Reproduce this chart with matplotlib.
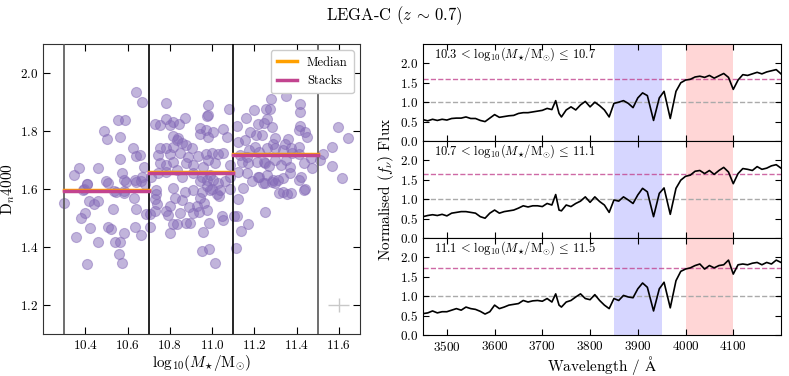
import matplotlib
matplotlib.use("Agg")
import matplotlib.pyplot as plt
import numpy as np

plt.rcParams['font.family'] = ['cmr10', 'DejaVu Serif']
plt.rcParams['mathtext.fontset'] = 'cm'
plt.rcParams['axes.formatter.use_mathtext'] = True
plt.rcParams['axes.unicode_minus'] = False

# ---------------- data ----------------
mass = [10.641, 10.670, 10.554, 10.586, 10.487, 10.503, 10.565, 10.625, 10.638, 10.658,
        10.565, 10.371, 10.348, 10.462, 10.575, 10.581, 10.594, 10.638, 10.676, 10.670,
        10.506, 10.406, 10.390, 10.546, 10.581, 10.300, 10.406, 10.394, 10.419, 10.460,
        10.440, 10.379, 10.400, 10.354, 10.422, 10.459, 10.406, 10.506, 10.520, 10.530,
        10.536, 10.581, 10.630, 10.641, 10.635, 10.581, 10.543, 10.563, 10.560, 10.575,
        10.665, 10.689, 10.684, 10.665, 10.635, 10.500,
        10.784, 10.983, 10.983, 10.978, 11.078, 10.729, 10.752, 10.784, 10.816, 10.800,
        10.871, 10.843, 10.813, 10.832, 10.840, 10.943, 10.943, 10.971, 10.983, 11.003,
        11.054, 11.071, 10.752, 10.784, 10.816, 10.856, 10.879, 10.903, 10.744, 10.800,
        10.848, 10.887, 10.935, 10.971, 10.998, 11.030, 11.050, 10.752, 10.784, 10.816,
        10.879, 10.911, 10.956, 10.980, 11.016, 11.086, 10.713, 10.744, 10.784, 10.832,
        10.860, 10.911, 10.951, 10.975, 10.990, 11.005, 11.030, 11.086, 10.733, 10.816,
        10.871, 10.911, 10.951, 10.990, 11.038, 10.729, 10.737, 10.741, 10.729, 10.705,
        10.705, 10.784, 10.792, 10.803, 10.824, 10.813, 10.832, 10.800, 10.848, 10.860,
        10.892, 10.895, 10.879, 10.911, 10.930, 10.940, 10.943, 10.963, 10.978, 10.987,
        10.959, 10.954, 10.986, 11.014, 11.022, 11.035, 11.046, 11.050, 11.086, 11.000,
        10.975, 11.062, 10.943, 11.102,
        11.279, 11.348, 11.416, 11.416, 11.117, 11.162, 11.200, 11.257, 11.276, 11.260,
        11.216, 11.244, 11.284, 11.178, 11.206, 11.238, 11.157, 11.125, 11.298, 11.286,
        11.410, 11.417, 11.438, 11.448, 11.359, 11.343, 11.335, 11.375, 11.413, 11.173,
        11.205, 11.220, 11.260, 11.300, 11.133, 11.165, 11.213, 11.252, 11.268, 11.300,
        11.350, 11.378, 11.410, 11.467, 11.144, 11.170, 11.244, 11.324, 11.368, 11.435,
        11.473, 11.125, 11.165, 11.220, 11.260, 11.290, 11.338, 11.371, 11.419, 11.410,
        11.146, 11.240, 11.284, 11.310, 11.435, 11.373, 11.335, 11.510, 11.527, 11.567,
        11.597, 11.641, 11.567, 11.617, 11.125, 11.117, 11.114, 11.138, 11.171, 11.252,
        11.356, 11.316, 11.440, 11.190, 11.251, 11.300, 11.215]
dn4000 = [1.936, 1.901, 1.838, 1.838, 1.800, 1.771, 1.780, 1.740, 1.715, 1.717,
          1.705, 1.674, 1.650, 1.671, 1.656, 1.631, 1.623, 1.625, 1.677, 1.642,
          1.622, 1.616, 1.597, 1.591, 1.587, 1.551, 1.616, 1.599, 1.557, 1.557,
          1.547, 1.499, 1.516, 1.434, 1.467, 1.417, 1.340, 1.470, 1.463, 1.530,
          1.593, 1.593, 1.568, 1.530, 1.470, 1.447, 1.417, 1.417, 1.375, 1.346,
          1.440, 1.513, 1.616, 1.628, 1.630, 1.628,
          1.895, 1.890, 1.855, 1.852, 1.876, 1.824, 1.821, 1.840, 1.832, 1.821,
          1.844, 1.824, 1.783, 1.769, 1.775, 1.809, 1.790, 1.803, 1.780, 1.798,
          1.806, 1.780, 1.743, 1.740, 1.746, 1.757, 1.752, 1.740, 1.717, 1.721,
          1.725, 1.711, 1.713, 1.721, 1.723, 1.721, 1.725, 1.688, 1.683, 1.694,
          1.688, 1.683, 1.677, 1.700, 1.688, 1.683, 1.642, 1.654, 1.660, 1.666,
          1.642, 1.654, 1.642, 1.631, 1.648, 1.631, 1.622, 1.642, 1.597, 1.602,
          1.591, 1.597, 1.591, 1.597, 1.597, 1.564, 1.582, 1.547, 1.524, 1.469,
          1.513, 1.524, 1.509, 1.541, 1.570, 1.480, 1.480, 1.449, 1.518, 1.562,
          1.539, 1.484, 1.484, 1.518, 1.541, 1.521, 1.570, 1.551, 1.528, 1.484,
          1.453, 1.386, 1.392, 1.344, 1.582, 1.575, 1.507, 1.493, 1.599, 1.601,
          1.610, 1.628, 1.628, 1.507,
          1.910, 1.921, 1.892, 1.867, 1.818, 1.844, 1.872, 1.876, 1.876, 1.840,
          1.823, 1.826, 1.815, 1.798, 1.786, 1.786, 1.769, 1.763, 1.775, 1.754,
          1.803, 1.817, 1.798, 1.780, 1.771, 1.754, 1.734, 1.740, 1.746, 1.734,
          1.746, 1.729, 1.740, 1.740, 1.717, 1.711, 1.694, 1.688, 1.680, 1.700,
          1.700, 1.723, 1.721, 1.706, 1.694, 1.688, 1.694, 1.683, 1.677, 1.691,
          1.674, 1.660, 1.654, 1.642, 1.648, 1.631, 1.637, 1.654, 1.642, 1.631,
          1.602, 1.620, 1.625, 1.631, 1.597, 1.585, 1.591, 1.700, 1.721, 1.746,
          1.815, 1.775, 1.680, 1.637, 1.564, 1.507, 1.398, 1.455, 1.478, 1.522,
          1.582, 1.587, 1.599, 1.628, 1.622, 1.620, 1.640]

bin_edges = [10.3, 10.7, 11.1, 11.5]
median_vals = [1.598, 1.658, 1.720]
stack_vals = [1.594, 1.654, 1.716]
err_x, err_y = 11.6, 1.2
err_dx, err_dy = 0.05, 0.025

wave = [3450, 3460, 3470, 3480, 3490, 3500, 3510, 3520, 3530, 3540, 3550, 3560, 3570,
        3580, 3590, 3600, 3610, 3620, 3630, 3640, 3650, 3660, 3670, 3680, 3690, 3700,
        3710, 3720, 3728, 3735, 3740, 3750, 3760, 3770, 3780, 3790, 3800, 3810, 3820,
        3830, 3840, 3850, 3860, 3870, 3880, 3890, 3900, 3910, 3920, 3933, 3945, 3955,
        3968, 3980, 3990, 4000, 4010, 4020, 4030, 4040, 4050, 4060, 4070, 4080, 4090,
        4100, 4110, 4120, 4130, 4140, 4150, 4160, 4170, 4180, 4190, 4200]
flux_low = [0.55, 0.52, 0.56, 0.53, 0.56, 0.54, 0.58, 0.59, 0.59, 0.62, 0.58, 0.58, 0.53,
            0.50, 0.59, 0.68, 0.61, 0.63, 0.65, 0.66, 0.71, 0.73, 0.73, 0.75, 0.77, 0.79,
            0.84, 0.81, 1.04, 0.71, 0.62, 0.80, 0.88, 0.80, 0.93, 1.02, 0.88, 1.00, 0.91,
            0.80, 0.62, 0.97, 1.00, 1.04, 0.97, 0.86, 1.11, 1.24, 1.17, 0.53, 1.11, 1.28,
            0.58, 1.28, 1.50, 1.57, 1.59, 1.65, 1.67, 1.64, 1.69, 1.62, 1.68, 1.74, 1.64,
            1.33, 1.57, 1.71, 1.69, 1.73, 1.77, 1.73, 1.78, 1.81, 1.84, 1.73]
flux_mid = [0.55, 0.58, 0.60, 0.58, 0.61, 0.57, 0.64, 0.66, 0.68, 0.68, 0.66, 0.64, 0.55,
            0.51, 0.64, 0.72, 0.64, 0.68, 0.70, 0.72, 0.77, 0.83, 0.80, 0.83, 0.83, 0.81,
            0.89, 0.85, 1.12, 0.72, 0.70, 0.85, 0.81, 0.89, 0.95, 1.06, 0.92, 1.06, 0.94,
            0.85, 0.66, 0.98, 0.95, 1.06, 0.98, 0.89, 1.11, 1.28, 1.19, 0.55, 1.15, 1.29,
            0.61, 1.28, 1.49, 1.59, 1.62, 1.72, 1.74, 1.66, 1.74, 1.64, 1.74, 1.82, 1.70,
            1.40, 1.66, 1.79, 1.77, 1.74, 1.84, 1.77, 1.80, 1.86, 1.89, 1.80]
flux_high = [0.55, 0.57, 0.62, 0.57, 0.60, 0.60, 0.64, 0.68, 0.64, 0.72, 0.68, 0.66, 0.61,
             0.54, 0.60, 0.77, 0.68, 0.72, 0.77, 0.79, 0.81, 0.89, 0.85, 0.88, 0.89, 0.87,
             0.94, 0.85, 1.06, 0.77, 0.72, 0.85, 0.89, 0.98, 1.06, 0.94, 0.91, 1.04, 0.89,
             0.77, 0.68, 0.94, 0.89, 1.02, 0.98, 0.96, 1.19, 1.34, 1.23, 0.62, 1.19, 1.36,
             0.70, 1.40, 1.64, 1.70, 1.73, 1.79, 1.83, 1.70, 1.79, 1.73, 1.79, 1.81, 1.93,
             1.57, 1.81, 1.83, 1.81, 1.85, 1.87, 1.81, 1.87, 1.83, 1.93, 1.87]
spectra = [flux_low, flux_mid, flux_high]
bin_labels = [r"$10.3\,<\,\mathrm{log}_{10}(M_{\star}/\mathrm{M}_{\odot})\,\leq\,10.7$",
              r"$10.7\,<\,\mathrm{log}_{10}(M_{\star}/\mathrm{M}_{\odot})\,\leq\,11.1$",
              r"$11.1\,<\,\mathrm{log}_{10}(M_{\star}/\mathrm{M}_{\odot})\,\leq\,11.5$"]

# colours
c_pts = (0.52, 0.42, 0.72)
c_med = '#ffa000'
c_stack = '#c2448f'

fig = plt.figure(figsize=(7.89, 3.76), dpi=100)

# ---------------- left panel ----------------
axL = fig.add_axes([43/789, 42/376, 317/789, 290/376])
axL.scatter(mass, dn4000, s=52, color=c_pts, alpha=0.5, edgecolor=c_pts, linewidth=0.8, zorder=2)
for i, e in enumerate(bin_edges):
    col = '#555555' if i in (0, len(bin_edges) - 1) else 'black'
    axL.axvline(e, color=col, lw=1.2, zorder=3)
for i in range(len(median_vals)):
    axL.plot([bin_edges[i], bin_edges[i + 1]], [median_vals[i]] * 2, color=c_med, lw=2.5, zorder=4,
             label='Median' if i == 0 else None)
    axL.plot([bin_edges[i], bin_edges[i + 1]], [stack_vals[i]] * 2, color=c_stack, lw=2.5, zorder=5,
             label='Stacks' if i == 0 else None)
axL.errorbar([err_x], [err_y], xerr=[err_dx], yerr=[err_dy], color='#c8c8c8', lw=1.0, capsize=0)
axL.set_xlim(10.2, 11.7)
axL.set_ylim(1.1, 2.1)
axL.set_xticks([10.4, 10.6, 10.8, 11.0, 11.2, 11.4, 11.6])
axL.set_yticks([1.2, 1.4, 1.6, 1.8, 2.0])
axL.tick_params(direction='in', top=True, right=True, labelsize=9.5, length=5)
axL.set_xlabel(r"$\mathrm{log}_{10}(M_{\star}/\mathrm{M}_{\odot})$", fontsize=11, labelpad=1)
axL.set_ylabel(r"$\mathrm{D}_n4000$", fontsize=11, labelpad=2)
leg = axL.legend(loc='upper right', fontsize=9, handlelength=1.6, framealpha=1.0, fancybox=True,
                 borderpad=0.5, labelspacing=0.5)
leg.get_frame().set_edgecolor('#cccccc')
for s in axL.spines.values():
    s.set_color('#333333')

# ---------------- right panels ----------------
x0, x1 = 423/789, 781/789
top, bot = 1 - 44/376, 1 - 335/376
h = (top - bot) / 3
axes_r = []
for k in range(3):
    ax = fig.add_axes([x0, top - (k + 1) * h, x1 - x0, h])
    axes_r.append(ax)
    ax.axvspan(3850, 3950, color='#0000ff', alpha=0.16, lw=0, zorder=0)
    ax.axvspan(4000, 4100, color='#ff0000', alpha=0.16, lw=0, zorder=0)
    ax.axhline(1.0, color='#aaaaaa', ls='--', lw=1.0, zorder=1)
    ax.axhline(median_vals[k], color=c_stack, ls='--', lw=1.0, alpha=0.8, zorder=1)
    ax.plot(wave, spectra[k], color='black', lw=1.2, zorder=3)
    ax.set_xlim(3450, 4200)
    ax.set_ylim(0, 2.5)
    ax.set_yticks([0.0, 0.5, 1.0, 1.5, 2.0])
    ax.set_xticks([3500, 3600, 3700, 3800, 3900, 4000, 4100])
    ax.tick_params(direction='in', top=True, right=True, labelsize=9.5, length=4)
    ax.text(3473, 2.02, bin_labels[k], fontsize=9, va='bottom', ha='left')
    if k < 2:
        ax.tick_params(labelbottom=False)
axes_r[2].set_xlabel(r"Wavelength / $\mathrm{\AA}$", fontsize=11, labelpad=0)
fig.text(386/789, (top + bot) / 2, r"Normalised $(f_{\nu})$ Flux", rotation=90,
         ha='center', va='center', fontsize=11)

fig.text(0.5, 1 - 16/376, r"LEGA-C ($z\,\sim\,0.7$)", ha='center', va='center', fontsize=12)

fig.savefig('out.png', dpi=100)
